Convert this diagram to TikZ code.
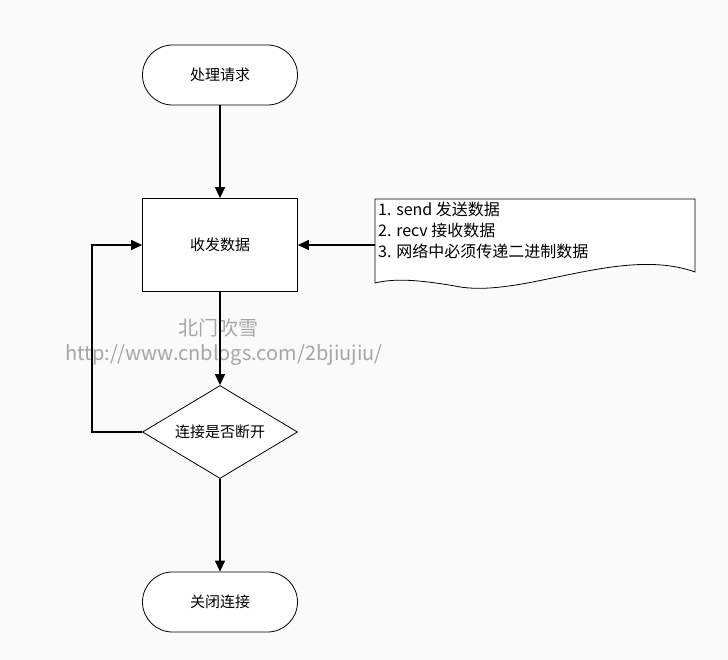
\documentclass[tikz,border=0pt]{standalone}
\usepackage{fontspec}
\setmainfont{Noto Sans CJK SC}
\usetikzlibrary{arrows.meta,shapes.geometric}
\tikzstyle{term}=[draw,line width=0.8pt,rounded corners=30pt,minimum width=155pt,minimum height=60pt,font=\fontsize{15pt}{18pt}\selectfont]
\tikzstyle{proc}=[draw,line width=0.8pt,fill=white,minimum width=155pt,minimum height=93pt,font=\fontsize{15pt}{18pt}\selectfont]
\tikzstyle{flow}=[line width=1.3pt,-{Triangle[length=11pt,width=10pt]}]

\begin{document}
\begin{tikzpicture}[x=1pt,y=-1pt]
    \fill[gray!4] (0,0) rectangle (728,660);
    \useasboundingbox (0,0) rectangle (728,660);
    \node[term,fill=white] (start) at (220,75) {处理请求};
    \node[proc] (recv) at (220,245) {收发数据};
    \node[draw,line width=0.8pt,diamond,aspect=1.67,fill=white,minimum width=155pt,minimum height=93pt,inner sep=0pt,font=\fontsize{15pt}{18pt}\selectfont] (check) at (220,432) {连接是否断开};
    \node[term,fill=white] (stop) at (220,602) {关闭连接};

    % document shape
    \draw[line width=0.8pt,fill=white] (375,199) -- (695,199) -- (695,272)
        .. controls (620,245) and (520,300) .. (455,286)
        .. controls (420,280) and (395,278) .. (375,283) -- cycle;
    \coordinate (doc) at (375,245);
    \node[anchor=north west,align=left,inner sep=0pt,font=\fontsize{16pt}{21pt}\selectfont] (note) at (378,202)
        {1. send 发送数据\\2. recv 接收数据\\3. 网络中必须传递二进制数据};

    % watermark
    \node[gray!70,font=\fontsize{20pt}{22pt}\selectfont] (wm1) at (218,328) {北门吹雪};
    \node[gray!70,font=\fontsize{20pt}{22pt}\selectfont] (wm2) at (224,355) {http://www.cnblogs.com/2bjiujiu/};

    \draw[flow] (start) -- (recv);
    \draw[flow] (doc) -- (recv);
    \draw[flow] (recv) -- (check);
    \draw[flow] (check.west) -- (92,432) -- (92,245) -- (recv.west);
    \draw[flow] (check) -- (stop);
\end{tikzpicture}
\end{document}
